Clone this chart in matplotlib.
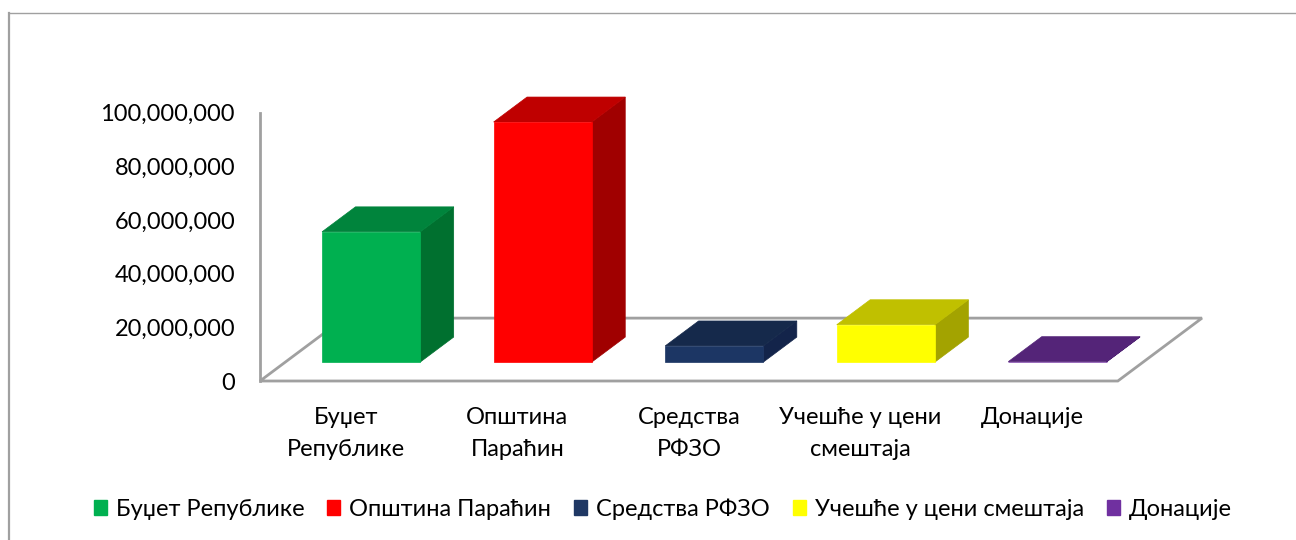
"""Fake 3D column chart of funding sources."""
import matplotlib
matplotlib.use('Agg')
import matplotlib.pyplot as plt
from matplotlib.lines import Line2D
from matplotlib.patches import Patch, Polygon
from matplotlib.ticker import FuncFormatter

categories = ['Буџет Републике', 'Општина Параћин', 'Средства РФЗО', 'Учешће у цени смештаја', 'Донације']
tick_labels = ['Буџет\nРепублике', 'Општина\nПараћин', 'Средства\nРФЗО', 'Учешће у цени\nсмештаја', 'Донације']
values = [48500000, 89400000, 6000000, 13900000, 150000]

front_colors = ['#00B050', '#FF0000', '#1C3664', '#FFFF00', '#7030A0']
top_colors = ['#00843C', '#BF0000', '#15294B', '#C0C000', '#542478']
side_colors = ['#00702F', '#A00000', '#13244A', '#A3A300', '#4A2070']
legend_colors = ['#00B050', '#FF0000', '#1F3864', '#FFFF00', '#7030A0']

W, H = 1296, 540
GRAY = '#A0A0A0'

# floor depth, in axis units
DEPTH_X = 84 / 171.2
DEPTH_Y = 63 / 269 * 100000000
BAR_W = 98 / 171.2
BAR_D0, BAR_D1 = 19 / 63, 44 / 63

plt.rcParams['font.family'] = ['Lato', 'Open Sans', 'DejaVu Sans']

fig = plt.figure(figsize=(W / 100, H / 100), dpi=100)
ax = fig.add_axes([260 / W, 1 - 381 / H, 942 / W, 268.5 / H])
ax.patch.set_visible(False)
ax.set_xlim(0, len(categories) + DEPTH_X)
ax.set_ylim(0, 100000000)


def pt(x, depth, z):
    """Project category position, depth fraction and value onto the axes."""
    return (x + depth * DEPTH_X, z + depth * DEPTH_Y)


def face(points, color, z):
    ax.add_patch(Polygon(points, closed=True, facecolor=color, edgecolor=color,
                         linewidth=0.5, zorder=z, clip_on=False))


n = len(categories)
ax.add_patch(Polygon([pt(0, 0, 0), pt(n, 0, 0), pt(n, 1, 0), pt(0, 1, 0)], closed=True,
                     facecolor='white', edgecolor=GRAY, linewidth=2, zorder=1, clip_on=False))

for i, v in enumerate(values):
    x0 = i + 0.5 - BAR_W / 2
    x1 = x0 + BAR_W
    front = [pt(x0, BAR_D0, 0), pt(x1, BAR_D0, 0), pt(x1, BAR_D0, v), pt(x0, BAR_D0, v)]
    top = [pt(x0, BAR_D0, v), pt(x1, BAR_D0, v), pt(x1, BAR_D1, v), pt(x0, BAR_D1, v)]
    side = [pt(x1, BAR_D0, 0), pt(x1, BAR_D1, 0), pt(x1, BAR_D1, v), pt(x1, BAR_D0, v)]
    face(side, side_colors[i], 3)
    face(top, top_colors[i], 3)
    face(front, front_colors[i], 4)

for s in ['top', 'right', 'bottom']:
    ax.spines[s].set_visible(False)
ax.spines['left'].set_color(GRAY)
ax.spines['left'].set_linewidth(2)
ax.spines['left'].set_zorder(5)

ax.set_yticks(range(0, 100000001, 20000000))
ax.yaxis.set_major_formatter(FuncFormatter(lambda v, _: f'{int(v):,}'))
ax.set_xticks([i + 0.5 for i in range(n)])
ax.set_xticklabels(tick_labels, linespacing=1.6)
ax.tick_params(axis='both', length=0, labelsize=17, labelcolor='#000000')
ax.tick_params(axis='y', pad=18)
ax.tick_params(axis='x', pad=19)

handles = [Patch(facecolor=c, edgecolor=c) for c in legend_colors]
fig.legend(handles, categories, loc='center', bbox_to_anchor=(663 / W, 1 - 509 / H), ncol=5,
           frameon=False, fontsize=17, handlelength=0.55, handleheight=0.55,
           handletextpad=0.38, columnspacing=0.98, borderpad=0)

# outer chart frame, cut by the picture on the right and bottom
fig.add_artist(Line2D([9 / W, 9 / W], [0, 1 - 13 / H], color=GRAY, linewidth=1.6))
fig.add_artist(Line2D([9 / W, 1], [1 - 13 / H, 1 - 13 / H], color=GRAY, linewidth=1.0))

fig.savefig('out.png', dpi=100, facecolor='white')
